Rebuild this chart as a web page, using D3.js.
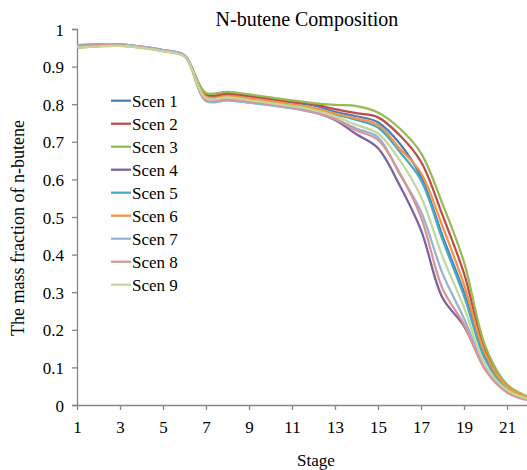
<!DOCTYPE html>
<html>
<head>
<meta charset="utf-8">
<script src="https://cdn.jsdelivr.net/npm/d3@7"></script>
<style>
  body { margin: 0; background: #fff; }
  svg text { font-family: "Liberation Serif", "Times New Roman", serif; fill: #000; }
</style>
</head>
<body>
<div id="chart"></div>
<script>
// chart data
const stages = d3.range(1, 23);
const scenNames = ["Scen 1", "Scen 2", "Scen 3", "Scen 4", "Scen 5", "Scen 6", "Scen 7", "Scen 8", "Scen 9"];
const scenColors = ["#4A7EBB", "#BE4B48", "#98B954", "#7D60A0", "#46AAC5", "#F69240", "#95B3D7", "#D99694", "#C3D69B"];

const scen1 = [0.957, 0.959, 0.959, 0.953, 0.944, 0.930, 0.822, 0.824, 0.818, 0.811, 0.804, 0.797, 0.780, 0.768, 0.752, 0.696, 0.607, 0.450, 0.300, 0.125, 0.045, 0.018];
const scen2 = [0.955, 0.958, 0.958, 0.952, 0.943, 0.929, 0.826, 0.828, 0.822, 0.815, 0.807, 0.800, 0.787, 0.776, 0.765, 0.718, 0.647, 0.505, 0.350, 0.145, 0.050, 0.020];
const scen3 = [0.950, 0.954, 0.955, 0.950, 0.941, 0.927, 0.830, 0.833, 0.826, 0.818, 0.810, 0.803, 0.798, 0.795, 0.778, 0.736, 0.670, 0.535, 0.380, 0.155, 0.055, 0.022];
const scen4 = [0.956, 0.958, 0.958, 0.952, 0.943, 0.929, 0.810, 0.811, 0.805, 0.798, 0.790, 0.779, 0.758, 0.720, 0.683, 0.585, 0.465, 0.285, 0.210, 0.095, 0.036, 0.014];
const scen5 = [0.956, 0.958, 0.958, 0.952, 0.943, 0.929, 0.818, 0.820, 0.814, 0.806, 0.798, 0.789, 0.773, 0.758, 0.738, 0.674, 0.598, 0.440, 0.290, 0.120, 0.043, 0.017];
const scen6 = [0.955, 0.958, 0.958, 0.952, 0.943, 0.929, 0.820, 0.822, 0.816, 0.808, 0.800, 0.790, 0.775, 0.762, 0.745, 0.683, 0.617, 0.475, 0.320, 0.135, 0.048, 0.019];
const scen7 = [0.957, 0.959, 0.959, 0.953, 0.944, 0.930, 0.808, 0.810, 0.804, 0.797, 0.789, 0.778, 0.762, 0.735, 0.712, 0.615, 0.515, 0.350, 0.230, 0.100, 0.036, 0.014];
const scen8 = [0.955, 0.957, 0.957, 0.951, 0.942, 0.928, 0.812, 0.813, 0.807, 0.800, 0.792, 0.780, 0.760, 0.730, 0.705, 0.618, 0.500, 0.310, 0.215, 0.092, 0.033, 0.012];
const scen9 = [0.951, 0.954, 0.955, 0.950, 0.941, 0.927, 0.816, 0.818, 0.811, 0.803, 0.795, 0.785, 0.768, 0.745, 0.722, 0.652, 0.554, 0.395, 0.260, 0.105, 0.040, 0.016];
const allScens = [scen1, scen2, scen3, scen4, scen5, scen6, scen7, scen8, scen9];

const yTicks = [0, 0.1, 0.2, 0.3, 0.4, 0.5, 0.6, 0.7, 0.8, 0.9, 1];
const xTicks = [1, 3, 5, 7, 9, 11, 13, 15, 17, 19, 21];

const W = 527, H = 470;
const margin = { top: 29, right: 0, bottom: 65, left: 77 };

const svg = d3.select("#chart").append("svg")
    .attr("width", W)
    .attr("height", H);

const x = d3.scaleLinear().domain([1, 22]).range([margin.left, 528.5]);
const y = d3.scaleLinear().domain([0, 1]).range([H - margin.bottom, margin.top]);

// axes
const axisColor = "#868686";
const yAxis = svg.append("g")
    .attr("transform", `translate(${margin.left},0)`)
    .call(d3.axisLeft(y).tickValues(yTicks).tickSize(5).tickPadding(8)
        .tickFormat(d => d3.format("~g")(d)));
const xAxis = svg.append("g")
    .attr("transform", `translate(0,${y(0)})`)
    .call(d3.axisBottom(x).tickValues(xTicks).tickSize(5).tickFormat(d3.format("d")));

[xAxis, yAxis].forEach(g => {
    g.attr("font-family", null).attr("font-size", null);
    g.select(".domain").attr("stroke", axisColor).attr("stroke-width", 1.3);
    g.selectAll(".tick line").attr("stroke", axisColor).attr("stroke-width", 1.3);
    g.selectAll(".tick text")
        .attr("fill", "#000")
        .attr("dy", null)
        .style("font-size", "17px");
});
yAxis.selectAll(".tick text").attr("y", 6);
xAxis.selectAll(".tick text").attr("y", 28);
xAxis.select(".domain").attr("d", `M${margin.left},0.5H${W}`);

// lines
const line = d3.line()
    .x((d, i) => x(stages[i]))
    .y(d => y(d))
    .curve(d3.curveCatmullRom.alpha(0.5));

svg.append("g").selectAll("path")
    .data(allScens)
    .join("path")
    .attr("d", line)
    .attr("fill", "none")
    .attr("stroke", (d, i) => scenColors[i])
    .attr("stroke-width", 2.25);

// titles
svg.append("text")
    .attr("x", 307)
    .attr("y", 26)
    .attr("text-anchor", "middle")
    .style("font-size", "20px")
    .text("N-butene Composition");

svg.append("text")
    .attr("x", 316)
    .attr("y", 466)
    .attr("text-anchor", "middle")
    .style("font-size", "17px")
    .text("Stage");

svg.append("text")
    .attr("transform", "translate(24,228) rotate(-90)")
    .attr("text-anchor", "middle")
    .style("font-size", "18px")
    .text("The mass fraction of n-butene");

// legend
scenNames.forEach((name, i) => {
    svg.append("line")
        .attr("x1", 111).attr("x2", 131)
        .attr("y1", 100.7 + i * 23).attr("y2", 100.7 + i * 23)
        .attr("stroke", scenColors[i])
        .attr("stroke-width", 2.25);
    svg.append("text")
        .attr("x", 132)
        .attr("y", 106.7 + i * 23)
        .style("font-size", "17px")
        .text(name);
});
</script>
</body>
</html>
